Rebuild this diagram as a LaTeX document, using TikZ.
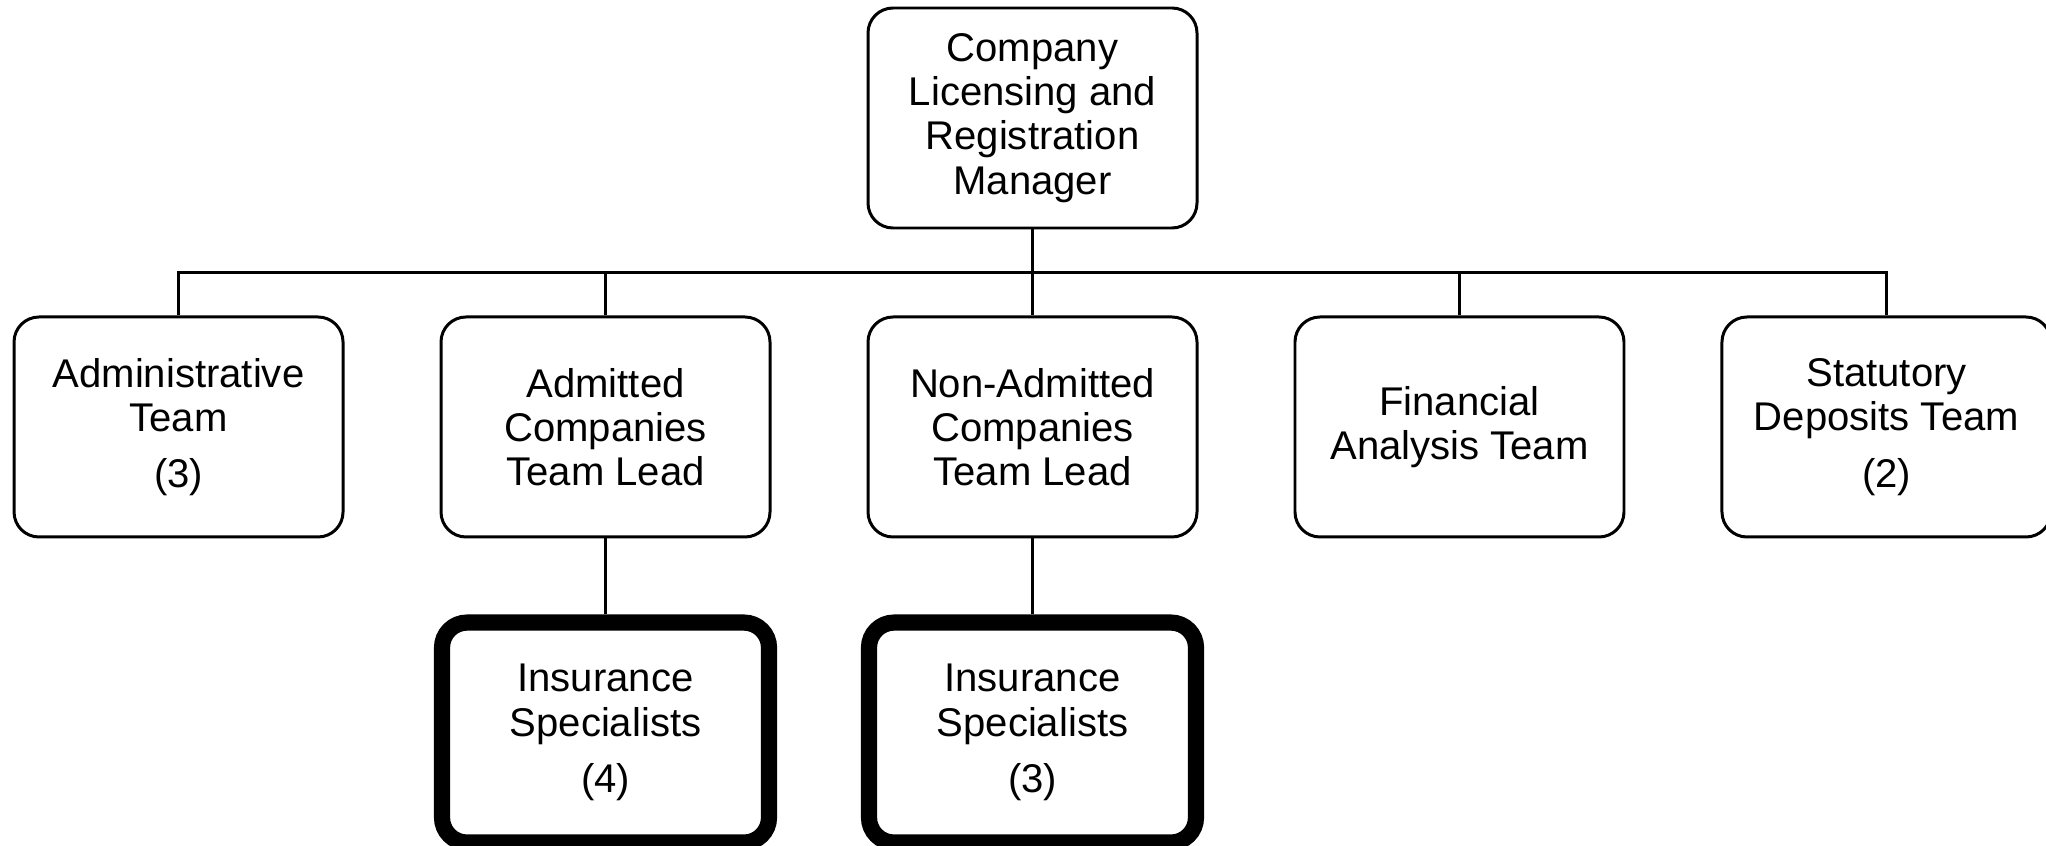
\documentclass[tikz,border=0pt]{standalone}
\usepackage{fontspec}
\setmainfont{Liberation Sans}
\usetikzlibrary{positioning,calc}

\begin{document}
\begin{tikzpicture}[
  unit/.style={draw, rounded corners=0.25cm, line width=0.85pt, minimum width=3.29cm, minimum height=2.2cm, align=center, font=\fontsize{11.4}{12.6}\selectfont, inner sep=0pt},
  spec/.style={unit, line width=4.6pt, minimum width=3.27cm},
  link/.style={line width=0.85pt}
]
  \useasboundingbox (0,0) rectangle (20.46,8.45);
  % manager and the five teams under it
  \node[unit] (mgr) at (10.325,7.27) {Company\\Licensing and\\Registration\\Manager};
  \node[unit, below=0.86cm of mgr] (nonadm) {Non-Admitted\\Companies\\Team Lead};
  \node[unit, left=0.95cm of nonadm] (adm) {Admitted\\Companies\\Team Lead};
  \node[unit, left=0.95cm of adm] (admin) {Administrative\\Team\\[0.12cm](3)};
  \node[unit, right=0.95cm of nonadm] (fin) {Financial\\Analysis Team};
  \node[unit, right=0.95cm of fin] (stat) {Statutory\\Deposits Team\\[0.12cm](2)};
  % specialists
  \node[spec, below=0.76cm of adm] (specA) {Insurance\\Specialists\\[0.12cm](4)};
  \node[spec, below=0.76cm of nonadm] (specN) {Insurance\\Specialists\\[0.12cm](3)};

  \coordinate (bar) at ($(mgr.south)!0.5!(nonadm.north)$);
  \draw[link] (mgr.south) -- (nonadm.north);
  \draw[link] (admin.north) |- (bar) -| (stat.north);
  \draw[link] (adm.north) -- (adm.north |- bar);
  \draw[link] (fin.north) -- (fin.north |- bar);
  \draw[link] (adm.south) -- (specA.north);
  \draw[link] (nonadm.south) -- (specN.north);
\end{tikzpicture}
\end{document}
